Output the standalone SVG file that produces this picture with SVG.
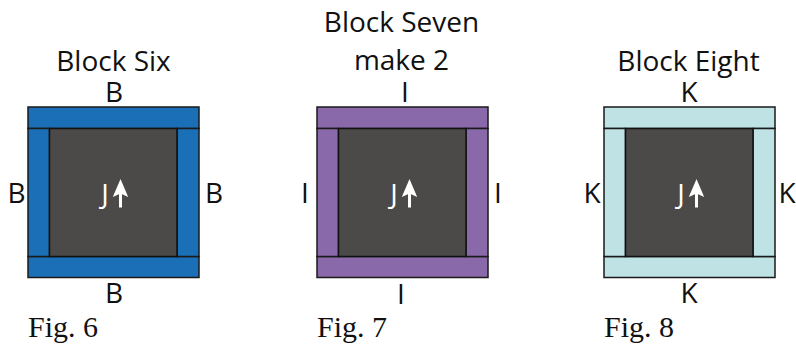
<svg xmlns="http://www.w3.org/2000/svg" width="796" height="347" viewBox="0 0 796 347">
<defs>
<style>
.t{font-family:"Open Sans","Noto Sans","Liberation Sans",sans-serif;font-size:28px;fill:#111;text-anchor:middle}
.f{font-family:"Liberation Serif","Times New Roman",serif;font-size:30px;fill:#111}
.c{fill:#4b4a49;stroke:#111;stroke-width:1.5}
.j{font-family:"Open Sans","Noto Sans","Liberation Sans",sans-serif;font-size:28px;fill:#fff;text-anchor:middle}
.b6{fill:#1b6fb6;stroke:#1a1a1a;stroke-width:1.5}
.b7{fill:#8a69ab;stroke:#1a1a1a;stroke-width:1.5}
.b8{fill:#bfe2e5;stroke:#1a1a1a;stroke-width:1.5}
</style>
<g id="quilt">
<rect x="0" y="0" width="171" height="21.5"/>
<rect x="0" y="149.5" width="171" height="21"/>
<rect x="0" y="21.5" width="21.5" height="128"/>
<rect x="149" y="21.5" width="22" height="128"/>
</g>
<g id="center">
<rect class="c" x="21.5" y="21.5" width="127.5" height="128"/>
<text class="j" x="77" y="97">J</text>
<polygon points="92.5,72 84.8,90 92.5,86.5 100.2,90" fill="#fff"/>
<rect x="91" y="84" width="3" height="16.5" fill="#fff"/>
</g>
</defs>

<g id="block-six">
<text class="t" x="113.5" y="71">Block Six</text>
<g transform="translate(28,107)">
<use href="#quilt" class="b6"/>
<use href="#center"/>
</g>
<text class="t" x="114" y="102">B</text>
<text class="t" x="16.5" y="203">B</text>
<text class="t" x="214" y="203">B</text>
<text class="t" x="114" y="303">B</text>
<text class="f" x="28" y="337">Fig. 6</text>
</g>

<g id="block-seven">
<text class="t" x="401.5" y="32">Block Seven</text>
<text class="t" x="401.5" y="70">make 2</text>
<g transform="translate(317,107)">
<use href="#quilt" class="b7"/>
<use href="#center"/>
</g>
<text class="t" x="405" y="102">I</text>
<text class="t" x="305" y="203">I</text>
<text class="t" x="498" y="203">I</text>
<text class="t" x="401" y="303.5">I</text>
<text class="f" x="317" y="337">Fig. 7</text>
</g>

<g id="block-eight">
<text class="t" x="688.5" y="71">Block Eight</text>
<g transform="translate(604,107)">
<use href="#quilt" class="b8"/>
<use href="#center"/>
</g>
<text class="t" x="689" y="102">K</text>
<text class="t" x="592" y="203">K</text>
<text class="t" x="787" y="203">K</text>
<text class="t" x="689" y="303">K</text>
<text class="f" x="604" y="337">Fig. 8</text>
</g>
</svg>
